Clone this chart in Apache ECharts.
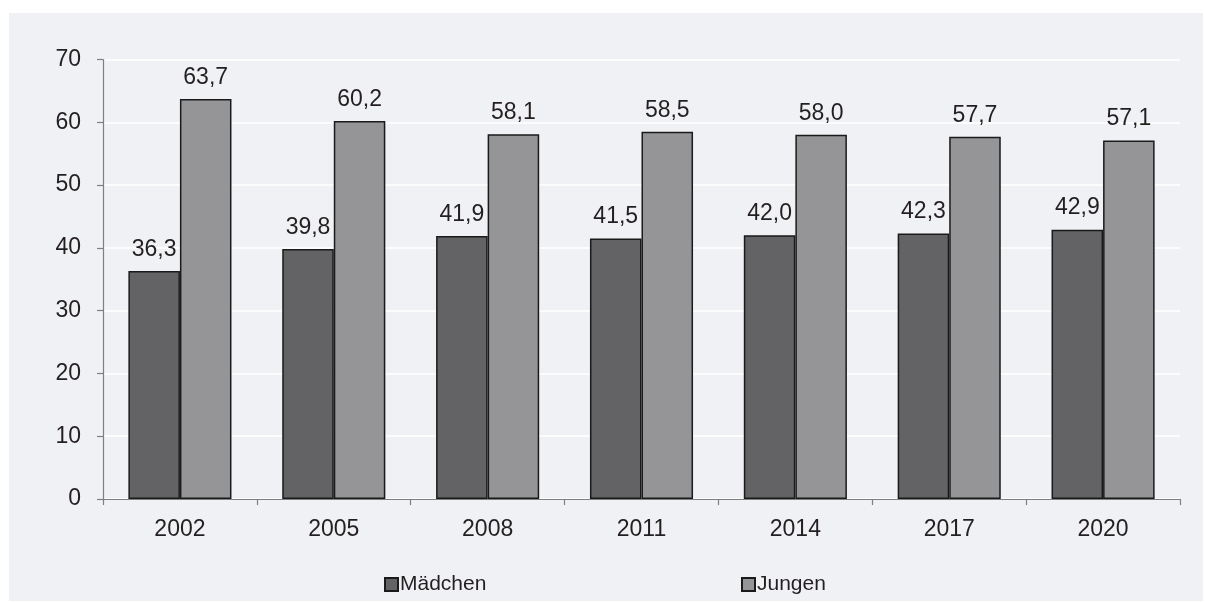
<!DOCTYPE html>
<html>
<head>
<meta charset="utf-8">
<script src="https://cdn.jsdelivr.net/npm/echarts@6/dist/echarts.min.js"></script>
<style>
html,body{margin:0;padding:0;background:#fff;}
#panel{position:absolute;left:9px;top:13px;width:1194px;height:588px;background:#f0f1f4;}
#chart{position:absolute;left:0;top:0;width:1205px;height:603px;}
</style>
</head>
<body>
<div id="panel"></div>
<div id="chart"></div>
<script>
var years = ['2002','2005','2008','2011','2014','2017','2020'];
var maedchen = [36.3, 39.8, 41.9, 41.5, 42.0, 42.3, 42.9];
var jungen = [63.7, 60.2, 58.1, 58.5, 58.0, 57.7, 57.1];
var yTicks = [0, 10, 20, 30, 40, 50, 60, 70];

var textColor = '#231f20';
var fontFam = '"Liberation Sans", Arial, sans-serif';

function fmt(v){
	return v.toFixed(1).replace('.', ',');
}

var chart = echarts.init(document.getElementById('chart'));
var option = {
	backgroundColor: 'transparent',
	animation: false,
	textStyle: { fontFamily: fontFam, color: textColor },
	grid: { left: 103, right: 25, top: 59.5, bottom: 104 },
	legend: [
		{
			data: ['Mädchen'],
			left: 379, top: 569,
			itemWidth: 13, itemHeight: 13, itemGap: 4,
			icon: 'rect',
			textStyle: { fontSize: 21, color: textColor, fontFamily: fontFam, padding: [0, 0, 0, -3] }
		},
		{
			data: ['Jungen'],
			left: 736, top: 569,
			itemWidth: 13, itemHeight: 13, itemGap: 4,
			icon: 'rect',
			textStyle: { fontSize: 21, color: textColor, fontFamily: fontFam, padding: [0, 0, 0, -3] }
		}
	],
	xAxis: {
		type: 'category',
		data: years,
		axisLine: { lineStyle: { color: '#7f7f7f', width: 1.2 } },
		axisTick: { show: true, length: 6, lineStyle: { color: '#7f7f7f', width: 1.2 } },
		axisLabel: { fontSize: 23, color: textColor, margin: 19 }
	},
	yAxis: {
		type: 'value',
		min: yTicks[0],
		max: yTicks[yTicks.length - 1],
		interval: 10,
		axisLine: { show: true, lineStyle: { color: '#7f7f7f', width: 1.2 } },
		axisTick: { show: true, length: 6, lineStyle: { color: '#7f7f7f', width: 1.2 } },
		axisLabel: { fontSize: 23, color: textColor, margin: 22 },
		splitLine: { lineStyle: { color: '#ffffff', width: 1.5 } }
	},
	series: [
		{
			name: 'Mädchen',
			type: 'bar',
			data: maedchen,
			barGap: '0%',
			barCategoryGap: '33%',
			itemStyle: { color: '#636265', borderColor: '#1a1a1a', borderWidth: 1.5 },
			label: {
				show: true, position: 'top', distance: 10,
				fontSize: 23, color: textColor,
				formatter: function(p){ return fmt(p.value); }
			}
		},
		{
			name: 'Jungen',
			type: 'bar',
			data: jungen,
			barGap: '0%',
			barCategoryGap: '33%',
			itemStyle: { color: '#959598', borderColor: '#1a1a1a', borderWidth: 1.5 },
			label: {
				show: true, position: 'top', distance: 10,
				fontSize: 23, color: textColor,
				formatter: function(p){ return fmt(p.value); }
			}
		}
	]
};
chart.setOption(option);
</script>
</body>
</html>
